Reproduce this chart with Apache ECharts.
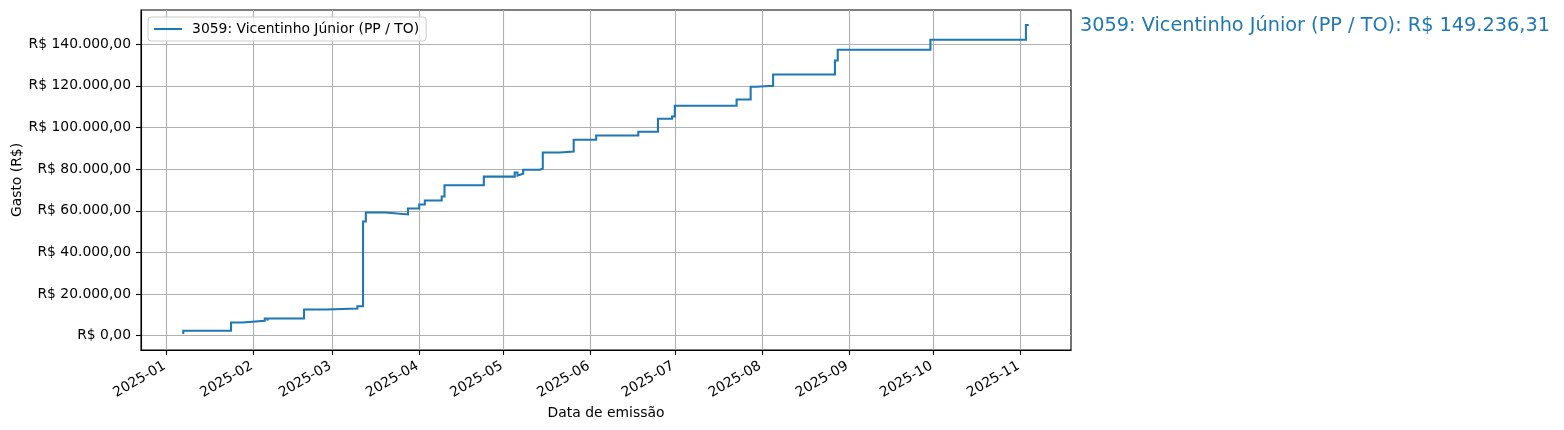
<!DOCTYPE html>
<html><head><meta charset="utf-8">
<script src="https://cdn.jsdelivr.net/npm/echarts@6/dist/echarts.min.js"></script>
<style>html,body{margin:0;padding:0;background:#fff}#c{width:1564px;height:430px}</style>
</head><body><div id="c"></div>
<script>
const seriesName = '3059: Vicentinho Júnior (PP / TO)';
const dates = [
  '2025-01-07','2025-01-24','2025-01-28','2025-02-05','2025-02-06','2025-02-06',
  '2025-02-19','2025-02-27','2025-03-10','2025-03-12','2025-03-13','2025-03-20',
  '2025-03-28','2025-04-01','2025-04-03','2025-04-09','2025-04-10','2025-04-24',
  '2025-05-05','2025-05-06','2025-05-06','2025-05-08','2025-05-14','2025-05-15',
  '2025-05-21','2025-05-21','2025-05-26','2025-06-03','2025-06-18','2025-06-25',
  '2025-06-30','2025-07-01','2025-07-23','2025-07-28','2025-07-30','2025-08-05',
  '2025-08-27','2025-08-28','2025-09-30','2025-11-03','2025-11-04'
];
const values = [
  800, 2400, 6380, 7200, 8250, 7200,
  8250, 12620, 13100, 14160, 54860, 59180,
  58220, 61100, 63020, 64940, 66860, 72240,
  76400, 78380, 76940, 77760, 79680, 80300,
  87980, 87020, 88460, 94080, 96140, 97920,
  104160, 105260, 110400, 113420, 119520, 120000,
  125420, 132140, 137280, 142080, 149236.31
];
const yTicks = [0, 20000, 40000, 60000, 80000, 100000, 120000, 140000];
const xTickMonths = ['2025-01','2025-02','2025-03','2025-04','2025-05','2025-06','2025-07','2025-08','2025-09','2025-10','2025-11'];
const totalValue = 149236.31;

function brl(v) {
  const s = Math.abs(v).toFixed(2);
  const parts = s.split('.');
  const ip = parts[0].replace(/\B(?=(\d{3})+(?!\d))/g, '.');
  return 'R$ ' + (v < 0 ? '-' : '') + ip + ',' + parts[1];
}
function ts(str) { const p = str.split('-').map(Number); return Date.UTC(p[0], p[1] - 1, p[2] || 1); }
const DAY = 86400000;
const xTickVals = xTickMonths.map(m => ts(m));
const xMin = ts('2025-01-01') - 9.05 * DAY;
const xMax = ts('2025-01-01') + 322.05 * DAY;
// steps-pre ("start") path: at each date the line jumps to the next value
const stepData = [];
dates.forEach((d, i) => {
  stepData.push([ts(d), values[i]]);
  if (i < dates.length - 1) stepData.push([ts(d), values[i + 1]]);
});
function monthLabel(v) {
  const d = new Date(v);
  return d.getUTCFullYear() + '-' + String(d.getUTCMonth() + 1).padStart(2, '0');
}

const font = 'DejaVu Sans';
const chart = echarts.init(document.getElementById('c'), null, {renderer: 'canvas'});
chart.setOption({
  animation: false,
  backgroundColor: '#fff',
  textStyle: {fontFamily: font},
  grid: {left: 141, right: 493, top: 10, bottom: 80, show: true, borderColor: '#000', borderWidth: 1.1,
         backgroundColor: 'transparent', containLabel: false, outerBoundsMode: 'none'},
  title: {
    text: seriesName + ': ' + brl(totalValue),
    left: 1080, top: 16, padding: 0,
    textStyle: {fontFamily: font, fontSize: 19.3, fontWeight: 'normal', color: '#1f77b4'}
  },
  legend: {
    left: 148, top: 17,
    padding: [5, 7, 5, 5],
    itemWidth: 28, itemHeight: 14, itemGap: 10,
    borderColor: '#cccccc', borderWidth: 1, borderRadius: 3,
    backgroundColor: 'rgba(255,255,255,0.8)',
    itemStyle: {opacity: 0},
    lineStyle: {color: '#1f77b4', width: 2.08},
    textStyle: {fontFamily: font, fontSize: 13.9, color: '#000', padding: [0, 0, 0, 5]},
    data: [seriesName]
  },
  xAxis: {
    type: 'value', min: xMin, max: xMax,
    name: 'Data de emissão', nameLocation: 'middle', nameGap: 56, nameMoveOverlap: false,
    nameTextStyle: {fontFamily: font, fontSize: 13.9, color: '#000'},
    axisLine: {show: true, onZero: false, lineStyle: {color: '#000', width: 1.1}},
    axisTick: {show: true, length: 5, lineStyle: {color: '#000', width: 1.1}, customValues: xTickVals},
    axisLabel: {
      customValues: xTickVals, rotate: 30, margin: 14, color: '#000', fontFamily: font, fontSize: 13.9,
      padding: [0, 2, 0, 0],
      formatter: monthLabel
    },
    splitLine: {show: true, lineStyle: {color: '#b0b0b0', width: 1.1}}
  },
  yAxis: {
    type: 'value', min: -6860, max: 156400,
    name: 'Gasto (R$)', nameLocation: 'middle', nameGap: 117, nameMoveOverlap: false,
    nameTextStyle: {fontFamily: font, fontSize: 13.9, color: '#000'},
    axisLine: {show: true, onZero: false, lineStyle: {color: '#000', width: 1.1}},
    axisTick: {show: true, length: 5, lineStyle: {color: '#000', width: 1.1}, customValues: yTicks},
    axisLabel: {customValues: yTicks, margin: 10, color: '#000', fontFamily: font, fontSize: 13.9, formatter: v => brl(v)},
    splitLine: {show: true, lineStyle: {color: '#b0b0b0', width: 1.1}}
  },
  series: [{
    name: seriesName, type: 'line', symbol: 'none',
    data: stepData,
    lineStyle: {color: '#1f77b4', width: 2.08, join: 'miter'},
    itemStyle: {color: '#1f77b4'}
  }]
});
</script></body></html>
